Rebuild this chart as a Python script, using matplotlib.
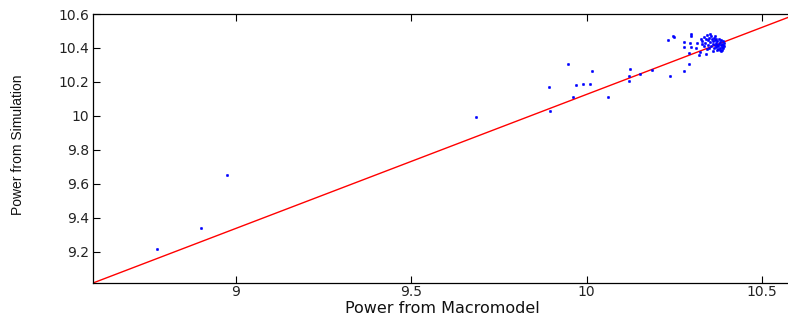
import matplotlib
matplotlib.use("Agg")
import matplotlib.pyplot as plt

# Data
macro_x = [8.775, 8.900, 8.974, 9.684, 9.893, 9.895, 9.946, 9.970, 9.990, 10.009,
           10.014, 9.961, 10.062, 10.124, 10.121, 10.120, 10.152, 10.187, 10.238, 10.279,
           10.291, 10.293, 10.233, 10.245, 10.249, 10.298, 10.299, 10.278, 10.295, 10.315,
           10.277, 10.297, 10.311, 10.323, 10.320, 10.340]
sim_y = [9.218, 9.342, 9.655, 9.992, 10.173, 10.031, 10.303, 10.183, 10.191, 10.187,
         10.262, 10.114, 10.112, 10.279, 10.238, 10.206, 10.244, 10.268, 10.238, 10.262,
         10.307, 10.368, 10.445, 10.472, 10.462, 10.484, 10.472, 10.433, 10.427, 10.429,
         10.403, 10.403, 10.401, 10.377, 10.358, 10.366]

cluster_x = [10.325, 10.330, 10.335, 10.338, 10.340, 10.342, 10.345, 10.347, 10.350, 10.352,
             10.354, 10.356, 10.357, 10.359, 10.360, 10.362, 10.363, 10.365, 10.366, 10.368,
             10.369, 10.370, 10.372, 10.373, 10.374, 10.376, 10.377, 10.378, 10.380, 10.381,
             10.382, 10.383, 10.385, 10.386, 10.387, 10.388, 10.389, 10.390, 10.384, 10.379,
             10.371, 10.360, 10.348, 10.336, 10.328, 10.391, 10.393, 10.367, 10.353, 10.344]
cluster_y = [10.455, 10.440, 10.465, 10.430, 10.450, 10.475, 10.420, 10.445, 10.460, 10.435,
             10.410, 10.470, 10.450, 10.425, 10.440, 10.400, 10.460, 10.415, 10.445, 10.430,
             10.405, 10.455, 10.420, 10.440, 10.395, 10.410, 10.450, 10.425, 10.400, 10.435,
             10.415, 10.445, 10.405, 10.425, 10.390, 10.440, 10.415, 10.400, 10.385, 10.388,
             10.388, 10.385, 10.400, 10.410, 10.425, 10.430, 10.410, 10.470, 10.480, 10.392]

line_x = [8.592, 10.60]
line_y = [9.017, 10.60]

x_ticks = [9, 9.5, 10, 10.5]
x_tick_labels = ["9", "9.5", "10", "10.5"]
y_ticks = [9.2, 9.4, 9.6, 9.8, 10, 10.2, 10.4, 10.6]
y_tick_labels = ["9.2", "9.4", "9.6", "9.8", "10", "10.2", "10.4", "10.6"]

W, H = 788, 316
fig = plt.figure(figsize=(W / 100, H / 100), dpi=100)
ax = fig.add_axes([93 / W, (H - 283) / H, (797 - 93) / W, (283 - 14) / H])

ax.plot(line_x, line_y, color=(1, 0, 0), lw=1.0, zorder=2)
ax.plot(macro_x + cluster_x, sim_y + cluster_y, linestyle="none", marker="o",
        markersize=1.8, markerfacecolor=(0, 0, 1), markeredgecolor=(0, 0, 1),
        markeredgewidth=0.3, zorder=3)

ax.set_xlim(8.592, 10.60)
ax.set_ylim(9.017, 10.60)
ax.set_xticks(x_ticks)
ax.set_xticklabels(x_tick_labels)
ax.set_yticks(y_ticks)
ax.set_yticklabels(y_tick_labels)

for s in ax.spines.values():
    s.set_linewidth(0.9)
    s.set_color("black")

ax.tick_params(direction="in", length=5, width=0.8, top=True, right=True,
               labelsize=10, colors="black")
ax.tick_params(axis="x", pad=1.5)
ax.tick_params(axis="y", pad=3)
for lab in ax.get_xticklabels() + ax.get_yticklabels():
    lab.set_family("DejaVu Sans")
    lab.set_color("#222222")

ax.set_xlabel("Power from Macromodel", fontsize=11.5, family="DejaVu Sans",
              color="#111111", labelpad=0)
ax.xaxis.set_label_coords((442 - 93) / (797 - 93), -(316 - 283) / (283 - 14), transform=ax.transAxes)
ax.xaxis.label.set_va("bottom")

fig.text(18 / W, 1 - 145 / H, "Power from Simulation", rotation=90, ha="center",
         va="center", fontsize=10, family="Liberation Sans", color="#111111")

fig.savefig("out.png", dpi=100)
